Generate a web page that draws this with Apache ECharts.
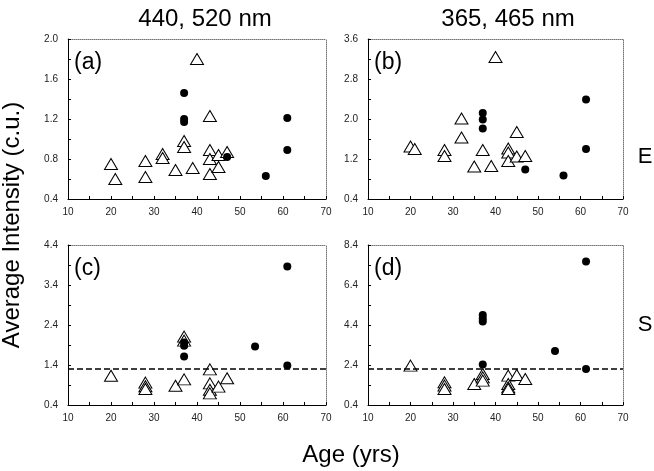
<!DOCTYPE html>
<html>
<head>
<meta charset="utf-8">
<script src="https://cdn.jsdelivr.net/npm/echarts@6/dist/echarts.min.js"></script>
<style>
  html, body { margin: 0; padding: 0; background: #fff; }
  #chart { width: 654px; height: 471px; }
</style>
</head>
<body>
<div id="chart"></div>
<script>
// [age, intensity] pairs
const triA = [[20, 0.75], [21, 0.6], [28, 0.78], [28, 0.62], [32, 0.85], [32, 0.81], [35, 0.69], [37, 0.98], [37, 0.92],
  [39, 0.71], [40, 1.8], [43, 1.23], [43, 0.89], [43, 0.8], [43, 0.65], [45, 0.84], [45, 0.72], [47, 0.87]];
const dotA = [[37, 1.46], [37, 1.2], [37, 1.17], [47, 0.82], [56, 0.63], [61, 1.21], [61, 0.89]];

const triB = [[20, 1.45], [21, 1.4], [28, 1.38], [28, 1.26], [32, 2.01], [32, 1.63], [35, 1.05], [37, 1.38], [39, 1.06],
  [40, 3.24], [43, 1.41], [43, 1.33], [43, 1.16], [45, 1.74], [45, 1.25], [47, 1.26]];
const dotB = [[37, 2.12], [37, 1.99], [37, 1.81], [47, 0.99], [56, 0.87], [61.3, 2.39], [61.3, 1.4]];

const triC = [[20, 1.13], [28, 0.96], [28, 0.87], [28, 0.8], [35, 0.88], [37, 2.11], [37, 2.01], [37, 1.04],
  [43, 1.29], [43, 0.94], [43, 0.78], [43, 0.69], [45, 0.86], [47, 1.07]];
const dotC = [[37, 1.96], [37, 1.88], [37, 1.61], [53.5, 1.86], [61, 3.86], [61, 1.39]];

const triD = [[20, 2.37], [28, 1.53], [28, 1.37], [28, 1.2], [35, 1.45], [37, 1.95], [37, 1.78], [37, 1.62],
  [43, 1.87], [43, 1.45], [43, 1.28], [43, 1.2], [45, 1.9], [47, 1.7]];
const dotD = [[37, 4.9], [37, 4.73], [37, 4.57], [37, 2.43], [54, 3.1], [61.3, 7.57], [61.3, 2.2]];

const refC = 1.3;
const refD = 2.2;

const ageTicks = { min: 10, max: 70, interval: 10 };
const yRanges = [
  { min: 0.4, max: 2.0, interval: 0.4 },
  { min: 0.4, max: 3.6, interval: 0.8 },
  { min: 0.4, max: 4.4, interval: 1.0 },
  { min: 0.4, max: 8.4, interval: 2.0 }
];

const panels = ['(a)', '(b)', '(c)', '(d)'];

const font = 'Liberation Sans, Arial, sans-serif';
const grids = [
  { left: 68, top: 39, width: 258, height: 160 },
  { left: 368, top: 39, width: 255, height: 160 },
  { left: 68, top: 245, width: 258, height: 160 },
  { left: 368, top: 245, width: 255, height: 160 }
];

const xAxes = [];
const yAxes = [];
grids.forEach((g, i) => {
  // main bottom / left axes
  xAxes.push({
    gridIndex: i, type: 'value', ...ageTicks,
    axisLine: { lineStyle: { color: '#000', width: 1 } },
    axisTick: { inside: true, length: 3, lineStyle: { color: '#000' } },
    minorTick: { show: true, splitNumber: 2, length: 3, lineStyle: { color: '#000' } },
    axisLabel: { color: '#222', fontSize: 10, fontFamily: font, margin: 8 },
    splitLine: { show: false }
  });
  yAxes.push({
    gridIndex: i, type: 'value', ...yRanges[i],
    axisLine: { show: true, lineStyle: { color: '#000', width: 1 } },
    axisTick: { show: true, inside: true, length: 3, lineStyle: { color: '#000' } },
    minorTick: { show: true, splitNumber: 2, length: 3, lineStyle: { color: '#000' } },
    axisLabel: { color: '#222', fontSize: 10, fontFamily: font, margin: 10, formatter: v => v.toFixed(1) },
    splitLine: { show: false }
  });
});
grids.forEach((g, i) => {
  // dotted top / right frame
  xAxes.push({
    gridIndex: i, type: 'value', position: 'top', ...ageTicks,
    axisLine: { lineStyle: { color: '#777', type: 'dotted' } },
    axisTick: { show: false }, axisLabel: { show: false }, splitLine: { show: false }
  });
  yAxes.push({
    gridIndex: i, type: 'value', position: 'right', ...yRanges[i],
    axisLine: { show: true, lineStyle: { color: '#777', type: 'dotted' } },
    axisTick: { show: false }, axisLabel: { show: false }, splitLine: { show: false }
  });
});

const triStyle = { color: '#fff', borderColor: '#000', borderWidth: 1, opacity: 1 };
const dotStyle = { color: '#000', opacity: 1 };

function triSeries(data, i) {
  return { type: 'scatter', xAxisIndex: i, yAxisIndex: i, data, symbol: 'triangle', symbolSize: [13, 11], itemStyle: triStyle, z: 3 };
}
function dotSeries(data, i, ref) {
  const s = { type: 'scatter', xAxisIndex: i, yAxisIndex: i, data, symbol: 'circle', symbolSize: 8, itemStyle: dotStyle, z: 4 };
  if (ref !== undefined) {
    s.markLine = {
      silent: true, symbol: 'none', label: { show: false },
      lineStyle: { color: '#000', type: [6, 3], width: 1.5 },
      data: [{ yAxis: ref }]
    };
  }
  return s;
}

function label(text, x, y, size, rot) {
  return {
    type: 'text', x, y, rotation: rot || 0,
    style: { text, font: size + 'px ' + font, fill: '#000', textAlign: 'center', textVerticalAlign: 'middle' }
  };
}

const chart = echarts.init(document.getElementById('chart'));
chart.setOption({
  animation: false,
  backgroundColor: '#fff',
  textStyle: { fontFamily: font },
  grid: grids,
  xAxis: xAxes,
  yAxis: yAxes,
  series: [
    triSeries(triA, 0), dotSeries(dotA, 0),
    triSeries(triB, 1), dotSeries(dotB, 1),
    triSeries(triC, 2), dotSeries(dotC, 2, refC),
    triSeries(triD, 3), dotSeries(dotD, 3, refD)
  ],
  graphic: [
    label('440, 520 nm', 205, 19, 24),
    label('365, 465 nm', 508, 19, 24),
    label('Age (yrs)', 351, 455, 24),
    label('Average Intensity (c.u.)', 12, 225, 24, Math.PI / 2),
    label('E', 645, 157, 22),
    label('S', 645, 325, 22),
    ...panels.map((t, i) => ({
      type: 'text', x: grids[i].left + 6, y: grids[i].top + 24,
      style: { text: t, font: '23px ' + font, fill: '#000', textAlign: 'left', textVerticalAlign: 'middle' }
    }))
  ]
});
</script>
</body>
</html>
